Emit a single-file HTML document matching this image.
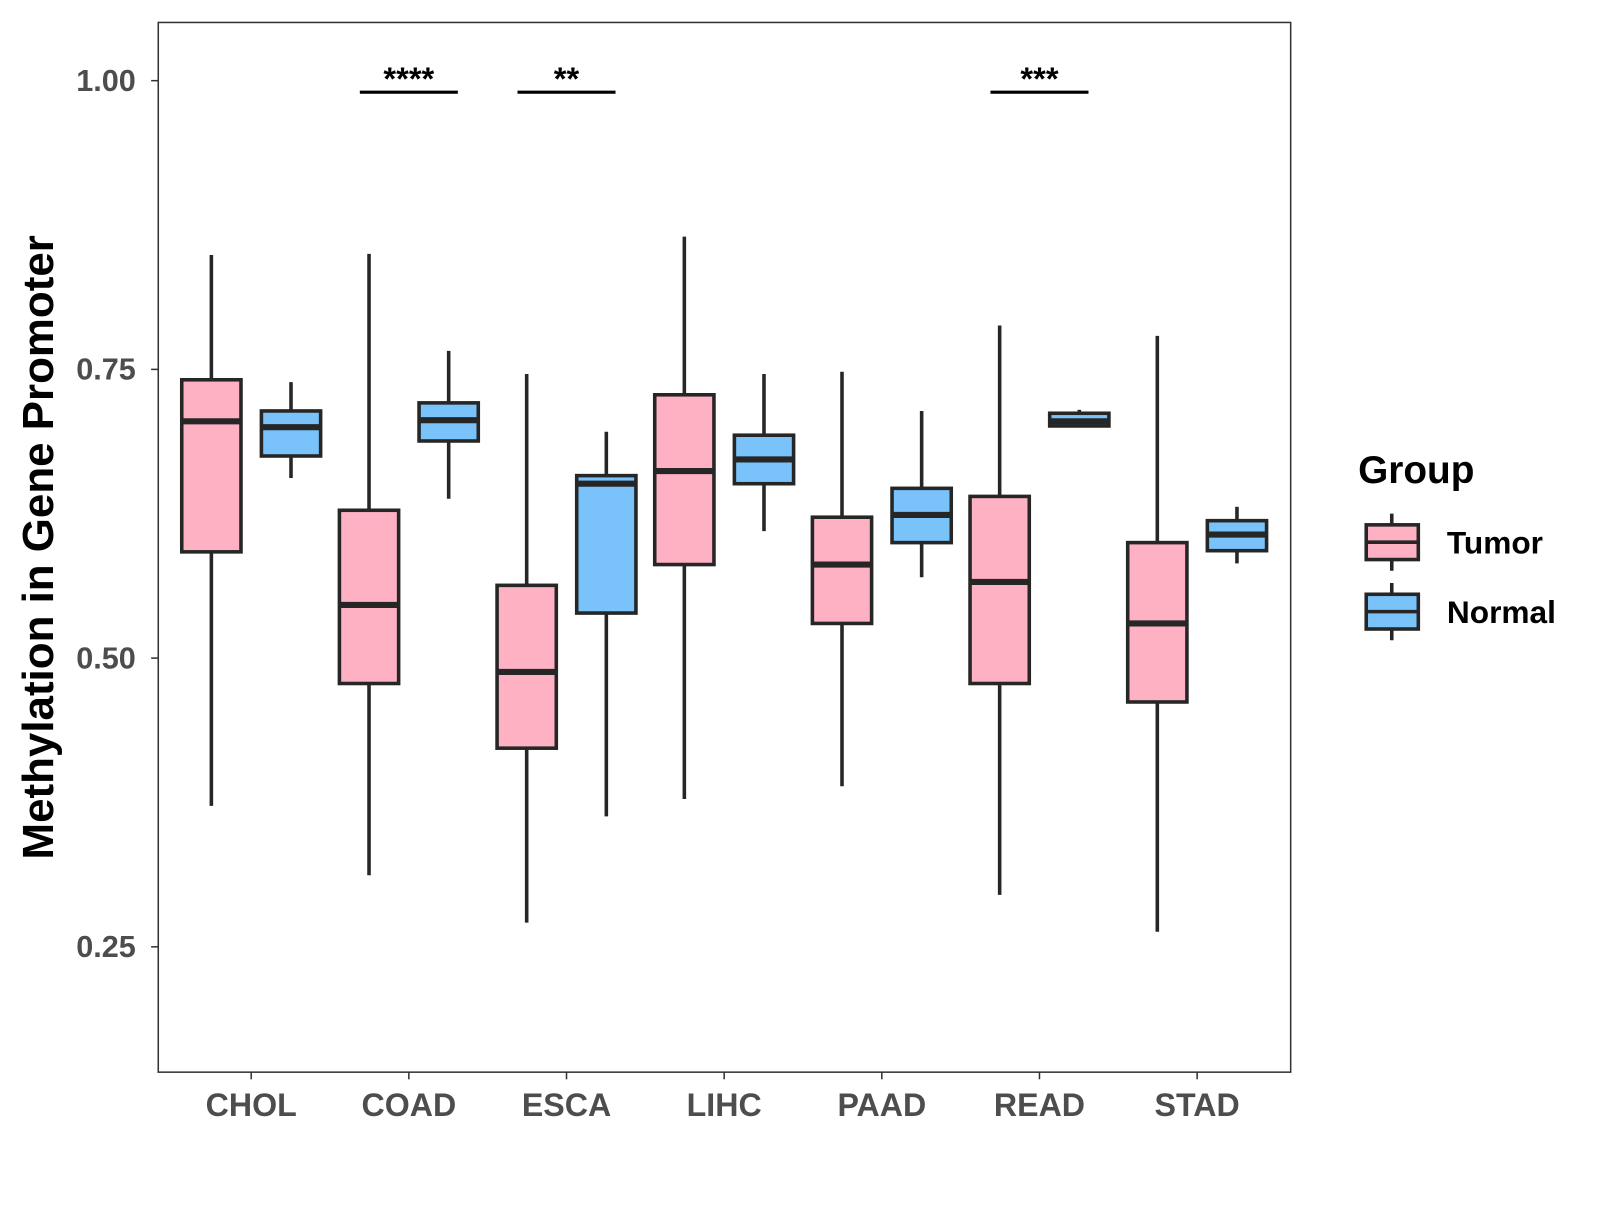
<!DOCTYPE html>
<html><head><meta charset="utf-8"><style>
html,body{margin:0;padding:0;background:#fff;}
svg text{font-family:"Liberation Sans",Arial,sans-serif;font-weight:bold;}
</style></head><body>
<svg id="chart" width="1600" height="1200" viewBox="0 0 1600 1200">
<rect x="0" y="0" width="1600" height="1200" fill="#fff"/>
<g id="plot" transform="scale(1.0211)"></g>
</svg>
<script>
const categories = ["CHOL","COAD","ESCA","LIHC","PAAD","READ","STAD"];
// [low, q1, median, q3, high]
const tumorStats = [
  [0.372,0.592,0.705,0.741,0.849],
  [0.312,0.478,0.546,0.628,0.850],
  [0.271,0.422,0.488,0.563,0.746],
  [0.378,0.581,0.662,0.728,0.865],
  [0.389,0.530,0.581,0.622,0.748],
  [0.295,0.478,0.566,0.640,0.788],
  [0.263,0.462,0.530,0.600,0.779]
];
const normalStats = [
  [0.656,0.675,0.700,0.714,0.739],
  [0.638,0.688,0.706,0.721,0.766],
  [0.363,0.539,0.651,0.658,0.696],
  [0.610,0.651,0.672,0.693,0.746],
  [0.570,0.600,0.624,0.647,0.714],
  [0.701,0.701,0.705,0.712,0.715],
  [0.582,0.593,0.607,0.619,0.631]
];
const yTicks = [0.25,0.50,0.75,1.00];
const yTickLabels = ["0.25","0.50","0.75","1.00"];
const sigCategories = ["COAD","ESCA","READ"];
const sigLabels = ["****","**","***"];
const sigLevel = 0.99;

const NS="http://www.w3.org/2000/svg";
const g=document.getElementById('plot');
const L=155,R=1264,T=22,B=1050;
function y(v){return 79+(1-v)*1131;}
function x(i){return 246+i*154.4;}
function mk(tag,attrs,parent){const e=document.createElementNS(NS,tag);for(const k in attrs)e.setAttribute(k,attrs[k]);(parent||g).appendChild(e);return e;}

let e=mk('rect',{x:L,y:T,width:R-L,height:B-T,fill:'none',stroke:'#333','stroke-width':1.5});



yTicks.forEach((t,i)=>{
  let l=mk('line',{x1:L-7,x2:L,y1:y(t),y2:y(t),stroke:'#333','stroke-width':1.5});
  
  
  let tx=mk('text',{x:133,y:y(t)+10,'text-anchor':'end','font-size':30,fill:'#4d4d4d'});
  tx.textContent=yTickLabels[i];
  
  
});
categories.forEach((c,i)=>{
  let l=mk('line',{x1:x(i),x2:x(i),y1:B,y2:B+7,stroke:'#333','stroke-width':1.5});
  
  
  let tx=mk('text',{x:x(i),y:B+43,'text-anchor':'middle','font-size':31.5,fill:'#4d4d4d'});
  tx.textContent=c;
  
  
});
e=mk('text',{x:0,y:0,transform:'translate(52,536) rotate(-90)','text-anchor':'middle','font-size':43,fill:'#000'});
e.textContent='Methylation in Gene Promoter';



function box(cx,s,fill,name){
  const grp=mk('g',{});
  
  
  mk('line',{x1:cx,x2:cx,y1:y(s[4]),y2:y(s[0]),stroke:'#262626','stroke-width':3.5},grp);
  mk('rect',{x:cx-29,y:y(s[3]),width:58,height:y(s[1])-y(s[3]),fill:fill,stroke:'#262626','stroke-width':3.5},grp);
  mk('line',{x1:cx-29,x2:cx+29,y1:y(s[2]),y2:y(s[2]),stroke:'#262626','stroke-width':6},grp);
}
categories.forEach((c,i)=>{
  box(x(i)-39,tumorStats[i],'#FFB1C4','tumor-box-'+c.toLowerCase());
  box(x(i)+39,normalStats[i],'#7AC3FA','normal-box-'+c.toLowerCase());
});
sigCategories.forEach((c,k)=>{
  const i=categories.indexOf(c);
  let l=mk('line',{x1:x(i)-48,x2:x(i)+48,y1:y(sigLevel),y2:y(sigLevel),stroke:'#000','stroke-width':3});
  
  
  let tx=mk('text',{x:x(i),y:y(sigLevel)-2,'text-anchor':'middle','font-size':32,fill:'#000'});
  tx.textContent=sigLabels[k];
  
  
});
const lg=mk('g',{});


e=mk('text',{x:1330,y:473,'font-size':38,fill:'#000'},lg);
e.textContent='Group';


[['Tumor','#FFB1C4',531],['Normal','#7AC3FA',599]].forEach(([lab,col,cy])=>{
  const it=mk('g',{},lg);
  
  
  mk('line',{x1:1363,x2:1363,y1:cy-28,y2:cy+28,stroke:'#262626','stroke-width':3.5},it);
  mk('rect',{x:1338,y:cy-17,width:51,height:34,fill:col,stroke:'#262626','stroke-width':3.5},it);
  mk('line',{x1:1338,x2:1389,y1:cy,y2:cy,stroke:'#262626','stroke-width':3.5},it);
  const t=mk('text',{x:1417,y:cy+11,'font-size':31,fill:'#000'},it);
  t.textContent=lab;
});
</script>
</body></html>
